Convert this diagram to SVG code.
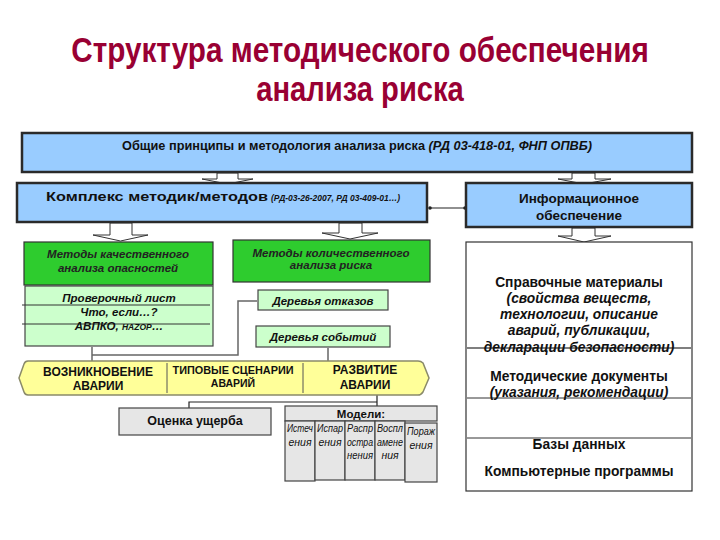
<svg xmlns="http://www.w3.org/2000/svg" width="720" height="540" viewBox="0 0 720 540">
<style>
.t{font-family:"Liberation Sans",Arial,sans-serif;fill:#111;}
.b{font-weight:bold;}
.i{font-style:italic;}
.blue{fill:#99CCFF;stroke:#2a2a2a;stroke-width:2.5;}
.green{fill:#2ECC2E;stroke:#333;stroke-width:1.2;}
.lg{fill:#CCFFCC;stroke:#444;stroke-width:1.2;}
.gray{fill:#E6E6E6;stroke:#444;stroke-width:1.2;}
.ba{fill:#fff;stroke:#333;stroke-width:1;}
.ln{fill:none;stroke:#666;stroke-width:1.5;}
.lk{fill:none;stroke:#222;stroke-width:1.2;}
</style>
<defs>
<marker id="dot" markerWidth="4" markerHeight="4" refX="2" refY="2" markerUnits="userSpaceOnUse"><circle cx="2" cy="2" r="1.8" fill="#222"/></marker>
</defs>

<g id="title">
<text class="t b" transform="translate(360,62) scale(0.825,1)" x="0" y="0" font-size="36" text-anchor="middle" style="fill:#990033">Структура методического обеспечения</text>
<text class="t b" transform="translate(360,101) scale(0.81,1)" x="0" y="0" font-size="36" text-anchor="middle" style="fill:#990033">анализа риска</text>
</g>

<g id="connectors">
<polygon class="ba" points="217,173 217,179 202,179 227.5,184 253,179 238,179 238,173"/>
<polygon class="ba" points="572,173 572,179 558,179 584,184 611,179 595,179 595,173"/>
<polygon class="ba" points="110,223 110,235 93,235 120.5,241 148,235 132,235 132,223"/>
<polygon class="ba" points="339,223 339,233 322,233 350,239 378,233 362,233 362,223"/>
<polygon class="ba" points="572,228 572,236 558,236 584,242 611,236 595,236 595,228"/>
<line class="lk" x1="430" y1="208" x2="465" y2="208" marker-start="url(#dot)" marker-end="url(#dot)"/>
<polyline class="ln" points="257,301 238,301 238,355 92,355"/>
<line class="ln" x1="92" y1="347" x2="92" y2="361"/>
<line class="ln" x1="328" y1="348" x2="328" y2="361"/>
<polyline class="lk" points="189,408 189,402 377,402"/>
<line class="lk" x1="377" y1="395" x2="377" y2="406"/>
</g>

<g id="general">
<rect class="blue" x="22" y="133" width="670" height="39"/>
<text class="t b" x="357" y="150" font-size="13" text-anchor="middle" textLength="470" lengthAdjust="spacingAndGlyphs">Общие принципы и методология анализа риска <tspan class="i">(РД 03-418-01, ФНП ОПВБ)</tspan></text>
</g>

<g id="complex">
<rect class="blue" x="17" y="183" width="410" height="39"/>
<text class="t b" x="46" y="201" font-size="13.5" textLength="222" lengthAdjust="spacingAndGlyphs">Комплекс  методик/методов</text>
<text class="t b i" x="271" y="201" font-size="9.5" textLength="129" lengthAdjust="spacingAndGlyphs">(РД-03-26-2007, РД 03-409-01…)</text>
</g>

<g id="info">
<rect class="blue" x="466" y="183" width="226" height="44"/>
<text class="t b" x="579" y="203" font-size="13.5" text-anchor="middle">Информационное</text>
<text class="t b" x="579" y="220" font-size="13.5" text-anchor="middle">обеспечение</text>
</g>

<g id="qual">
<rect class="green" x="24" y="242" width="189" height="43"/>
<text class="t b i" x="118" y="258" font-size="11.5" text-anchor="middle" style="fill:#222">Методы качественного</text>
<text class="t b i" x="118" y="272" font-size="11.5" text-anchor="middle" style="fill:#222">анализа опасностей</text>
</g>

<g id="quant">
<rect class="green" x="233" y="240" width="197" height="42"/>
<text class="t b i" x="331" y="257" font-size="11.5" text-anchor="middle" style="fill:#222">Методы количественного</text>
<text class="t b i" x="331" y="269" font-size="11.5" text-anchor="middle" style="fill:#222">анализа риска</text>
</g>

<g id="checklist">
<rect class="lg" x="25" y="286" width="188" height="60"/>
<line x1="22" y1="305" x2="210" y2="305" stroke="#333" stroke-width="1"/>
<line x1="22" y1="324" x2="210" y2="324" stroke="#333" stroke-width="1"/>
<text class="t b i" x="119" y="302" font-size="11.5" text-anchor="middle">Проверочный лист</text>
<text class="t b i" x="119" y="316" font-size="11.5" text-anchor="middle">Что, если…?</text>
<text class="t b i" x="119" y="330" font-size="11.5" text-anchor="middle">АВПКО, <tspan font-size="8.5">HAZOP</tspan>…</text>
</g>

<g id="faulttree">
<rect class="lg" x="258" y="290" width="130" height="20"/>
<text class="t b i" x="323" y="305" font-size="11.5" text-anchor="middle">Деревья отказов</text>
</g>

<g id="eventtree">
<rect class="lg" x="256" y="326" width="134" height="21"/>
<text class="t b i" x="323" y="341" font-size="11.5" text-anchor="middle">Деревья событий</text>
</g>

<g id="scenarios">
<path d="M28,361 L418,361 Q421,361 423,363 L429,378 L423,392 Q421,395 418,395 L28,395 Q25,395 24,392 L19,378 L24,364 Q25,361 28,361 Z" fill="#FFFF99" stroke="#8a8a6a" stroke-width="1.5"/>
<line x1="167" y1="363" x2="167" y2="393" stroke="#555" stroke-width="1"/>
<line x1="303" y1="363" x2="303" y2="393" stroke="#555" stroke-width="1"/>
<text class="t b" x="98" y="376" font-size="12" text-anchor="middle">ВОЗНИКНОВЕНИЕ</text>
<text class="t b" x="98" y="390" font-size="12" text-anchor="middle">АВАРИИ</text>
<text class="t b" x="233" y="374" font-size="10.5" text-anchor="middle" textLength="121" lengthAdjust="spacingAndGlyphs">ТИПОВЫЕ СЦЕНАРИИ</text>
<text class="t b" x="233" y="387" font-size="10.5" text-anchor="middle">АВАРИЙ</text>
<text class="t b" x="365" y="374" font-size="12" text-anchor="middle">РАЗВИТИЕ</text>
<text class="t b" x="365" y="389" font-size="12" text-anchor="middle">АВАРИИ</text>
</g>

<g id="damage">
<rect class="gray" x="119" y="408" width="152" height="27"/>
<text class="t b" x="195" y="425" font-size="12.5" text-anchor="middle">Оценка ущерба</text>
</g>

<g id="models">
<rect class="gray" x="285" y="406" width="152" height="15"/>
<text class="t b" x="361" y="418" font-size="11.5" text-anchor="middle">Модели:</text>
<rect class="gray" x="285" y="421" width="30" height="60"/>
<rect class="gray" x="315" y="421" width="30" height="59"/>
<rect class="gray" x="345" y="421" width="30" height="59"/>
<rect class="gray" x="375" y="421" width="30" height="59"/>
<rect class="gray" x="405" y="423" width="32" height="59"/>
<g class="t i" font-size="10.5" text-anchor="middle">
<text x="300" y="432" textLength="26" lengthAdjust="spacingAndGlyphs">Истеч</text>
<text x="300" y="446">ения</text>
<text x="330" y="432" textLength="26" lengthAdjust="spacingAndGlyphs">Испар</text>
<text x="330" y="446">ения</text>
<text x="360" y="432" textLength="26" lengthAdjust="spacingAndGlyphs">Распр</text>
<text x="360" y="446" textLength="26" lengthAdjust="spacingAndGlyphs">остра</text>
<text x="360" y="459" textLength="26" lengthAdjust="spacingAndGlyphs">нения</text>
<text x="390" y="432" textLength="26" lengthAdjust="spacingAndGlyphs">Воспл</text>
<text x="390" y="446" textLength="26" lengthAdjust="spacingAndGlyphs">амене</text>
<text x="390" y="459">ния</text>
<text x="421" y="435" textLength="28" lengthAdjust="spacingAndGlyphs">Пораж</text>
<text x="421" y="449">ения</text>
</g>
</g>

<g id="inforesources">
<rect x="466" y="242" width="226" height="249" fill="#fff" stroke="#333" stroke-width="1.2"/>
<line x1="467" y1="348" x2="691" y2="348" stroke="#555" stroke-width="1.5"/>
<line x1="467" y1="398" x2="691" y2="398" stroke="#333" stroke-width="1"/>
<line x1="467" y1="438" x2="691" y2="438" stroke="#333" stroke-width="1"/>
<text class="t b" x="579" y="287" font-size="13.8" text-anchor="middle">Справочные материалы</text>
<text class="t b i" x="579" y="303" font-size="13.8" text-anchor="middle">(свойства веществ,</text>
<text class="t b i" x="579" y="319" font-size="13.8" text-anchor="middle">технологии, описание</text>
<text class="t b i" x="579" y="335" font-size="13.8" text-anchor="middle">аварий, публикации,</text>
<text class="t b i" x="579" y="352" font-size="13.8" text-anchor="middle">декларации безопасности)</text>
<text class="t b" x="579" y="381" font-size="13.8" text-anchor="middle">Методические документы</text>
<text class="t b i" x="579" y="397" font-size="13.8" text-anchor="middle">(указания, рекомендации)</text>
<text class="t b" x="579" y="449" font-size="13.8" text-anchor="middle">Базы данных</text>
<text class="t b" x="579" y="476" font-size="13.8" text-anchor="middle">Компьютерные программы</text>
</g>
</svg>
